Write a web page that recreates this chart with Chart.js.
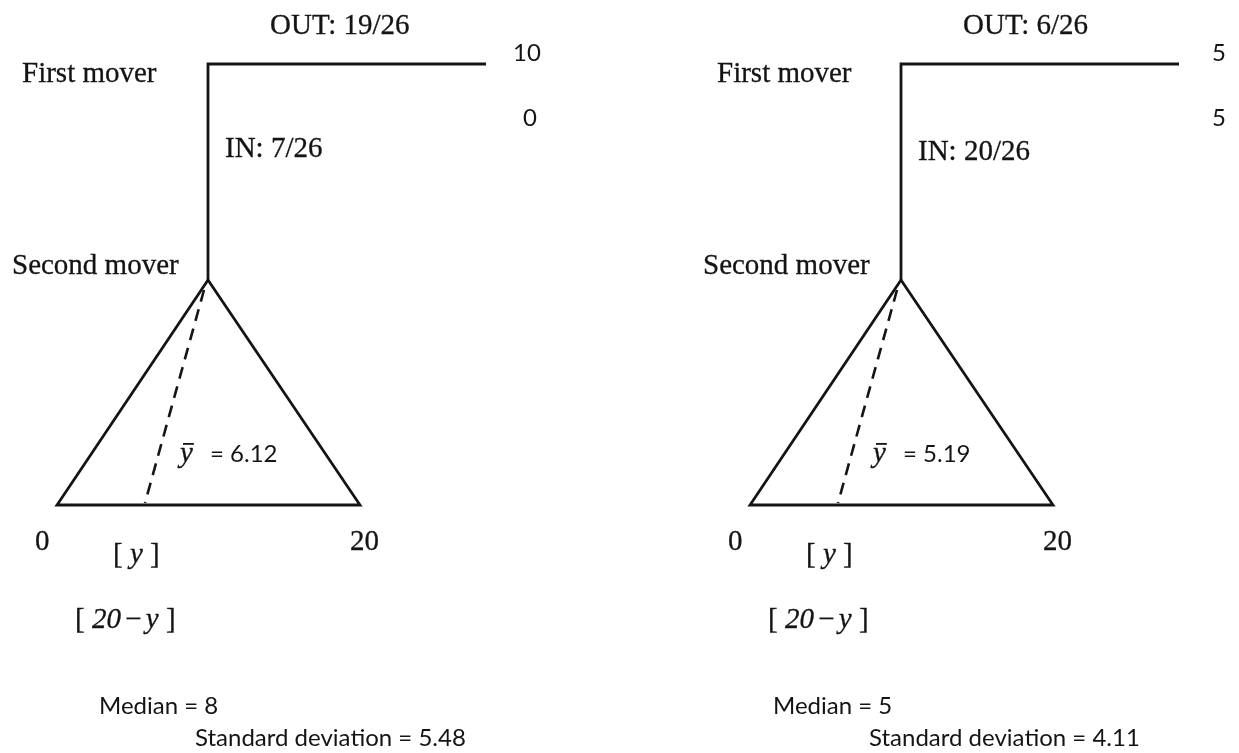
<!DOCTYPE html>
<html>
<head>
<meta charset="utf-8">
<script src="https://cdn.jsdelivr.net/npm/chart.js@4/dist/chart.umd.min.js"></script>
<style>
  html, body { margin: 0; padding: 0; background: #fff; }
  canvas { display: block; }
</style>
</head>
<body>
<canvas id="tree" width="1239" height="753"></canvas>
<script>
// game results, one entry per treatment
const outShares = ["19/26", "6/26"];
const inShares = ["7/26", "20/26"];
const outPayoffFirst = ["10", "5"];
const outPayoffSecond = ["0", "5"];
const meanY = ["6.12", "5.19"];
const medians = ["8", "5"];
const stdDevs = ["5.48", "4.11"];
const rangeEnds = ["0", "20"];

// layout (reference pixels)
const nodeX = [208, 901];
const statsX = [99, 773];
const topY = 64, secondY = 280, baseY = 505;

const INK = "#141414";
const SERIF = "'Liberation Serif', 'Times New Roman', serif";
const SANS = "Lato, 'Open Sans', sans-serif";

const datasets = [];
nodeX.forEach((px) => {
  datasets.push({
    data: [{ x: px + 278, y: topY }, { x: px, y: topY }, { x: px, y: secondY }],
    borderColor: INK, borderWidth: 2.8, pointRadius: 0, showLine: true,
    borderJoinStyle: "miter", fill: false,
  });
  datasets.push({
    data: [{ x: px, y: secondY }, { x: px - 151, y: baseY }, { x: px + 152, y: baseY }, { x: px, y: secondY }],
    borderColor: INK, borderWidth: 2.8, pointRadius: 0, showLine: true,
    borderJoinStyle: "miter", fill: false,
  });
  datasets.push({
    data: [{ x: px - 4, y: secondY + 10 }, { x: px - 63, y: baseY - 2 }],
    borderColor: INK, borderWidth: 2.6, pointRadius: 0, showLine: true,
    borderDash: [12, 8], fill: false,
  });
});

// font size that makes a string a given width
function fitSize(ctx, family, str, width) {
  ctx.font = "100px " + family;
  return 100 * width / ctx.measureText(str).width;
}

const textPlugin = {
  id: "treeText",
  afterDraw(chart) {
    const ctx = chart.ctx;
    const sx = (v) => chart.scales.x.getPixelForValue(v);
    const sy = (v) => chart.scales.y.getPixelForValue(v);
    const put = (str, x, y, font, heavy) => {
      ctx.font = font;
      ctx.fillText(str, sx(x), sy(y));
      if (heavy) ctx.strokeText(str, sx(x), sy(y));
      return ctx.measureText(str).width;
    };
    ctx.save();
    ctx.fillStyle = INK;
    ctx.strokeStyle = INK;
    ctx.lineWidth = 0.3;
    ctx.textBaseline = "alphabetic";
    ctx.textAlign = "left";
    const sansPx = (fitSize(ctx, SANS, "Standard deviation = 5.48", 275) +
                    fitSize(ctx, SANS, "Median = 8", 117)) / 2;
    const serif = "29px " + SERIF;
    const serifIt = "italic 29px " + SERIF;
    const sans = sansPx.toFixed(1) + "px " + SANS;
    nodeX.forEach((px, i) => {
      const d = px - 208;
      put("OUT: " + outShares[i], 270 + d, 34, serif, true);
      put(outPayoffFirst[i], (i === 0 ? 513 : 1212), 61, sans);
      put(outPayoffSecond[i], (i === 0 ? 523 : 1212), 126, sans);
      put("First mover", (i === 0 ? 22 : 717), 82, serif, true);
      put("IN: " + inShares[i], px + 17, (i === 0 ? 157 : 160), serif, true);
      put("Second mover", (i === 0 ? 12 : 703), 274, serif, true);
      // mean label with overline
      const w = put("y", 180 + d, 462, serifIt, true);
      ctx.fillRect(sx(183 + d), sy(443), w - 2, 1.8);
      put("= " + meanY[i], 210 + d, 462, sans);
      put(rangeEnds[0], 35 + d, 550, serif, true);
      put(rangeEnds[1], 350 + d, 550, serif, true);
      // payoff brackets
      let x = 113 + d;
      x += put("[ ", x, 563, serif, true);
      x += put("y", x, 563, serifIt, true);
      put(" ]", x, 563, serif, true);
      x = 75 + d;
      x += put("[ ", x, 628, serif, true);
      x += put("20", x, 628, serifIt, true);
      x += put(" \u2212 ", x - 3, 628, serif, true) - 6;
      x += put("y", x, 628, serifIt, true);
      put(" ]", x, 628, serif, true);
      put("Median = " + medians[i], statsX[i], 714, sans);
      put("Standard deviation = " + stdDevs[i], statsX[i] + 96, 746, sans);
    });
    ctx.restore();
  },
};

new Chart(document.getElementById("tree"), {
  type: "scatter",
  data: { datasets: datasets },
  options: {
    responsive: false,
    animation: false,
    devicePixelRatio: 1,
    layout: { padding: 0 },
    plugins: { legend: { display: false }, tooltip: { enabled: false } },
    scales: {
      x: { type: "linear", min: 0, max: 1239, display: false },
      y: { type: "linear", min: 0, max: 753, reverse: true, display: false },
    },
  },
  plugins: [textPlugin],
});
</script>
</body>
</html>
